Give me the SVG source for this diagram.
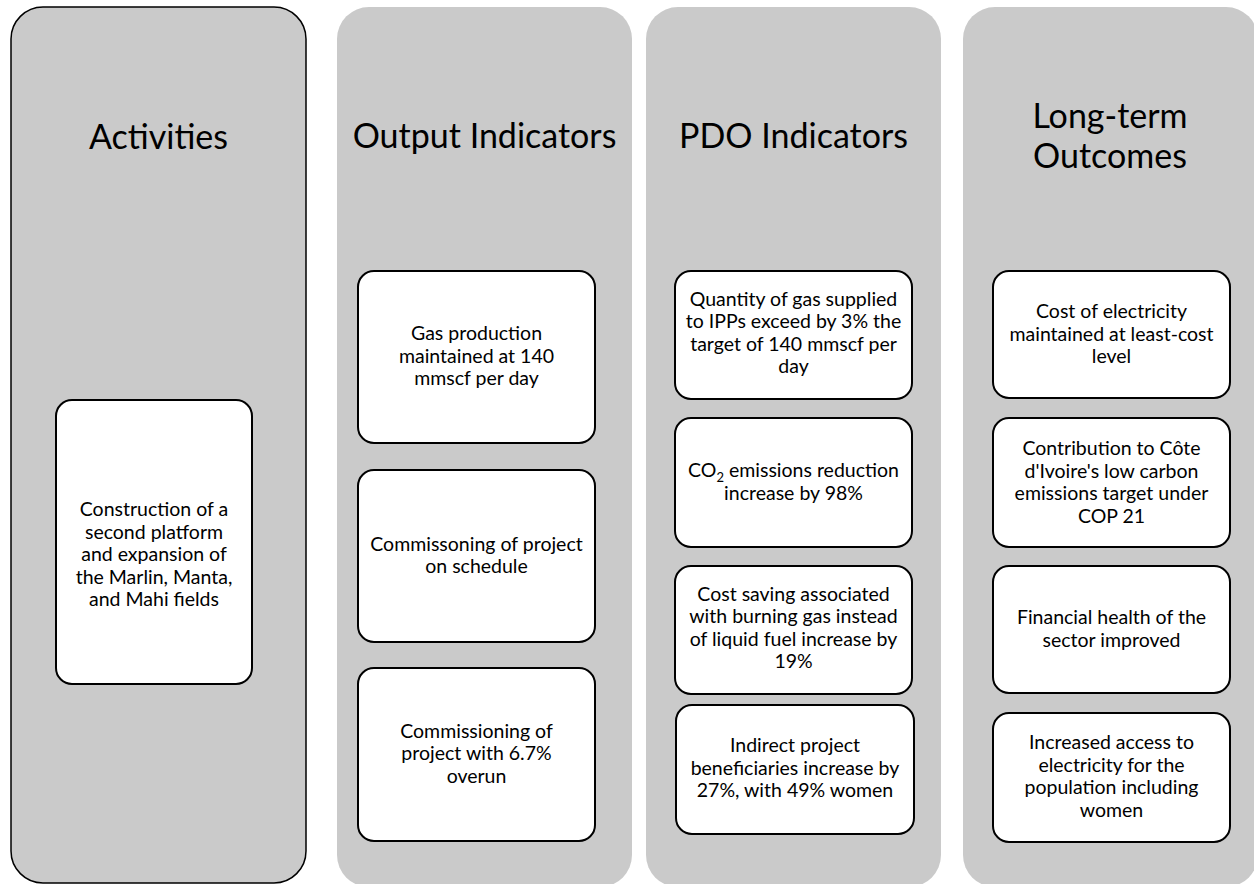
<svg xmlns="http://www.w3.org/2000/svg" width="1254" height="884" viewBox="0 0 1254 884">
  <style>
    .col { fill: #cacaca; }
    .col-edge { stroke: #000; stroke-width: 1.5; }
    .box { fill: #fff; stroke: #000; stroke-width: 2; }
    .title { font-family: Lato, "Liberation Sans", sans-serif; font-size: 34px; fill: #000; text-anchor: middle; }
    .label { font-family: Lato, "Liberation Sans", sans-serif; font-size: 19.5px; fill: #000; text-anchor: middle; }
  </style>

  <!-- column backgrounds -->
  <g id="col-activities">
    <rect class="col col-edge" x="11" y="7" width="295" height="876" rx="32" ry="32"/>
    <text class="title" x="158.5" y="149">Activities</text>
  </g>
  <g id="col-outputs">
    <rect class="col" x="337" y="7" width="295" height="880" rx="32" ry="32"/>
    <text class="title" x="484.5" y="148">Output Indicators</text>
  </g>
  <g id="col-pdo">
    <rect class="col" x="646" y="7" width="295" height="880" rx="32" ry="32"/>
    <text class="title" x="793.5" y="148">PDO Indicators</text>
  </g>
  <g id="col-outcomes">
    <rect class="col" x="963" y="7" width="295" height="880" rx="32" ry="32"/>
    <text class="title" x="1110" y="128">Long-term</text>
    <text class="title" x="1110" y="168">Outcomes</text>
  </g>

  <!-- activities -->
  <g id="act-1">
    <rect class="box" x="56" y="400" width="196" height="284" rx="16" ry="16"/>
    <text class="label" x="154" y="516">Construction of a</text>
    <text class="label" x="154" y="538.5">second platform</text>
    <text class="label" x="154" y="561">and expansion of</text>
    <text class="label" x="154" y="583.5">the Marlin, Manta,</text>
    <text class="label" x="154" y="606">and Mahi fields</text>
  </g>

  <!-- output indicators -->
  <g id="out-1">
    <rect class="box" x="358" y="271" width="237" height="172" rx="16" ry="16"/>
    <text class="label" x="476.5" y="340">Gas production</text>
    <text class="label" x="476.5" y="362.5">maintained at 140</text>
    <text class="label" x="476.5" y="385">mmscf per day</text>
  </g>
  <g id="out-2">
    <rect class="box" x="358" y="470" width="237" height="172" rx="16" ry="16"/>
    <text class="label" x="476.5" y="550.5">Commissoning of project</text>
    <text class="label" x="476.5" y="573">on schedule</text>
  </g>
  <g id="out-3">
    <rect class="box" x="358" y="668" width="237" height="173" rx="16" ry="16"/>
    <text class="label" x="476.5" y="737.5">Commissioning of</text>
    <text class="label" x="476.5" y="760">project with 6.7%</text>
    <text class="label" x="476.5" y="782.5">overun</text>
  </g>

  <!-- PDO indicators -->
  <g id="pdo-1">
    <rect class="box" x="675" y="271" width="237" height="128" rx="16" ry="16"/>
    <text class="label" x="793.5" y="305.5">Quantity of gas supplied</text>
    <text class="label" x="793.5" y="328">to IPPs exceed by 3% the</text>
    <text class="label" x="793.5" y="350.5">target of 140 mmscf per</text>
    <text class="label" x="793.5" y="373">day</text>
  </g>
  <g id="pdo-2">
    <rect class="box" x="675" y="418" width="237" height="129" rx="16" ry="16"/>
    <text class="label" x="793.5" y="477">CO<tspan font-size="13px" dy="5">2</tspan><tspan dy="-5"> emissions reduction</tspan></text>
    <text class="label" x="793.5" y="499.5">increase by 98%</text>
  </g>
  <g id="pdo-3">
    <rect class="box" x="675" y="566" width="237" height="128" rx="16" ry="16"/>
    <text class="label" x="793.5" y="600.5">Cost saving associated</text>
    <text class="label" x="793.5" y="623">with burning gas instead</text>
    <text class="label" x="793.5" y="645.5">of liquid fuel increase by</text>
    <text class="label" x="793.5" y="668">19%</text>
  </g>
  <g id="pdo-4">
    <rect class="box" x="676" y="705" width="238" height="129" rx="16" ry="16"/>
    <text class="label" x="795" y="752">Indirect project</text>
    <text class="label" x="795" y="774.5">beneficiaries increase by</text>
    <text class="label" x="795" y="797">27%, with 49% women</text>
  </g>

  <!-- long-term outcomes -->
  <g id="lto-1">
    <rect class="box" x="993" y="271" width="237" height="127" rx="16" ry="16"/>
    <text class="label" x="1111.5" y="318">Cost of electricity</text>
    <text class="label" x="1111.5" y="340.5">maintained at least-cost</text>
    <text class="label" x="1111.5" y="363">level</text>
  </g>
  <g id="lto-2">
    <rect class="box" x="993" y="418" width="237" height="129" rx="16" ry="16"/>
    <text class="label" x="1111.5" y="455">Contribution to Côte</text>
    <text class="label" x="1111.5" y="477.5">d'Ivoire's low carbon</text>
    <text class="label" x="1111.5" y="500">emissions target under</text>
    <text class="label" x="1111.5" y="522.5">COP 21</text>
  </g>
  <g id="lto-3">
    <rect class="box" x="993" y="566" width="237" height="127" rx="16" ry="16"/>
    <text class="label" x="1111.5" y="624">Financial health of the</text>
    <text class="label" x="1111.5" y="646.5">sector improved</text>
  </g>
  <g id="lto-4">
    <rect class="box" x="993" y="713" width="237" height="129" rx="16" ry="16"/>
    <text class="label" x="1111.5" y="749">Increased access to</text>
    <text class="label" x="1111.5" y="771.5">electricity for the</text>
    <text class="label" x="1111.5" y="794">population including</text>
    <text class="label" x="1111.5" y="816.5">women</text>
  </g>

  <!-- no connectors are drawn between the columns -->
  <g id="connectors"/>
</svg>
